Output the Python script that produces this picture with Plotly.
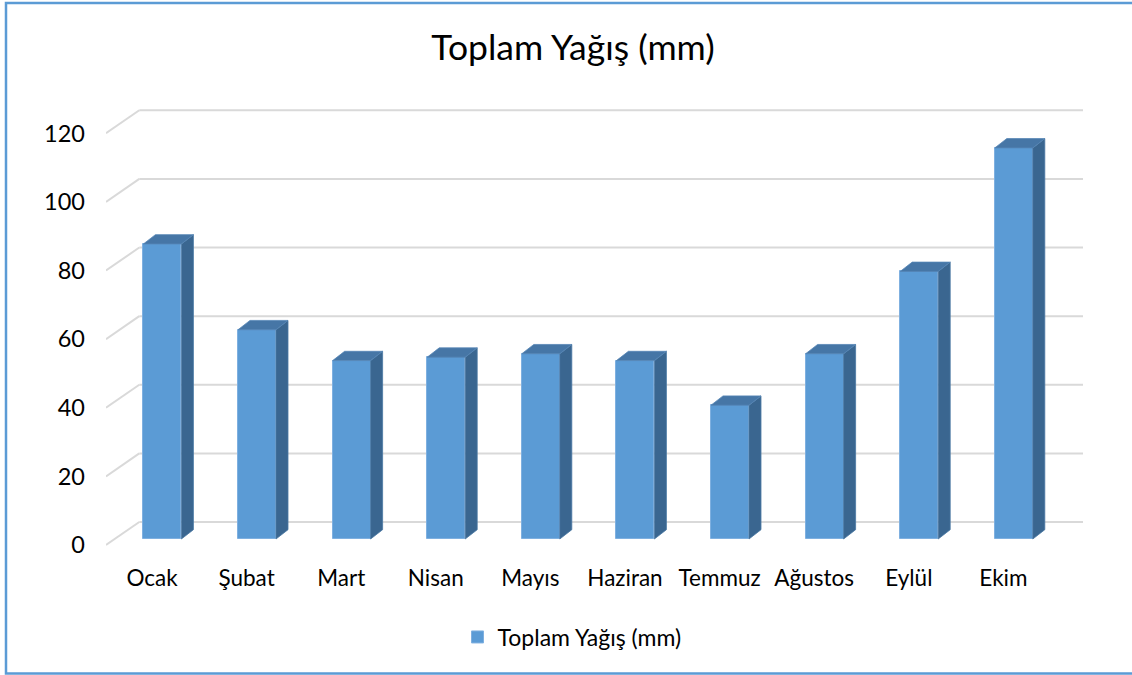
import plotly.graph_objects as go

# ---- data ----
months = ["Ocak", "Şubat", "Mart", "Nisan", "Mayıs", "Haziran", "Temmuz", "Ağustos", "Eylül", "Ekim"]
rain_mm = [86, 61, 52, 53, 54, 52, 39, 54, 78, 114]
y_ticks = [0, 20, 40, 60, 80, 100, 120]
series_name = "Toplam Yağış (mm)"
title_text = "Toplam Yağış (mm)"

# ---- geometry / style (pixel based layout) ----
W, H = 1132, 675
L, R, T, B = 106, 1083, 100, 560          # plot area in px
PX0, PX_STEP = 152.0, 94.6                # x px of category 0, px per category
Y0PX, K = 545.0, (545.0 - 133.3) / 120.0  # y px of value 0, px per unit

x_min = (L - PX0) / PX_STEP
x_max = (R - PX0) / PX_STEP
y_max = (Y0PX - T) / K
y_min = (Y0PX - B) / K

wall_dx = 33.3 / PX_STEP
wall_dy = 23.0 / K
bar_base = 6.0 / K
bar_shift = 0.11
bar_w = 38.0 / PX_STEP
depth_dx = 12.0 / PX_STEP
depth_dy = 9.3 / K

FRONT = "#5B9BD5"
SIDE = "#3A6690"
TOP = "#4676A6"
GRID = "#D9D9D9"
FONT = "Lato"

fig = go.Figure()

xs = [i + bar_shift for i in range(len(months))]
fig.add_trace(go.Bar(
    x=xs, y=rain_mm, base=bar_base, width=bar_w, name=series_name,
    marker=dict(color=FRONT, line=dict(color="#7FB0E0", width=1)),
    showlegend=True,
))

side_x, side_y, top_x, top_y = [], [], [], []
for x, v in zip(xs, rain_mm):
    xr, xl = x + bar_w / 2, x - bar_w / 2
    yb, yt = bar_base, bar_base + v
    side_x += [xr, xr + depth_dx, xr + depth_dx, xr, xr, None]
    side_y += [yb, yb + depth_dy, yt + depth_dy, yt, yb, None]
    top_x += [xl, xl + depth_dx, xr + depth_dx, xr, xl, None]
    top_y += [yt, yt + depth_dy, yt + depth_dy, yt, yt, None]

fig.add_trace(go.Scatter(x=side_x, y=side_y, fill="toself", fillcolor=SIDE, mode="lines",
                         line=dict(color="#4A78A3", width=0.8), showlegend=False, hoverinfo="skip"))
fig.add_trace(go.Scatter(x=top_x, y=top_y, fill="toself", fillcolor=TOP, mode="lines",
                         line=dict(color="#5585B5", width=0.8), showlegend=False, hoverinfo="skip"))

# back-wall gridlines with perspective diagonal on the left
shapes = []
for v in y_ticks:
    shapes.append(dict(type="line", xref="x", yref="y", x0=x_min, y0=v,
                       x1=x_min + wall_dx, y1=v + wall_dy,
                       line=dict(color=GRID, width=2), layer="below"))
    shapes.append(dict(type="line", xref="x", yref="y", x0=x_min + wall_dx, y0=v + wall_dy,
                       x1=x_max, y1=v + wall_dy,
                       line=dict(color=GRID, width=2), layer="below"))

# chart border
pw, ph = R - L, B - T
shapes.append(dict(type="rect", xref="paper", yref="paper",
                   x0=(6 - L) / pw, x1=(1140 - L) / pw,
                   y0=(B - 673.5) / ph, y1=(B - 3) / ph,
                   line=dict(color=FRONT, width=2.5), fillcolor="rgba(0,0,0,0)", layer="above"))

fig.update_layout(
    width=W, height=H,
    margin=dict(l=L, r=W - R, t=T, b=H - B, pad=0),
    paper_bgcolor="white", plot_bgcolor="white",
    font=dict(family=FONT, color="#000000", size=23),
    title=dict(text=title_text, x=573 / W, xanchor="center", y=1 - 48 / H, yanchor="middle",
               font=dict(family=FONT, size=35.5, color="#000000")),
    xaxis=dict(range=[x_min, x_max], tickmode="array", tickvals=list(range(len(months))),
               ticktext=months, showgrid=False, zeroline=False, showline=False,
               ticks="", ticklabelstandoff=2, tickfont=dict(size=22.5)),
    yaxis=dict(range=[y_min, y_max], tickmode="array", tickvals=y_ticks,
               showgrid=False, zeroline=False, showline=False,
               ticks="", ticklabelstandoff=20, tickfont=dict(size=23.5)),
    legend=dict(orientation="h", x=(572 - L) / pw, xanchor="center",
                y=(B - 637) / ph, yanchor="middle", font=dict(size=23),
                itemwidth=30, traceorder="normal"),
    shapes=shapes,
    bargap=0,
)

fig.write_html("out.html", config={"displayModeBar": False},
               post_script="document.body.style.margin='0';document.body.style.overflow='hidden';")
